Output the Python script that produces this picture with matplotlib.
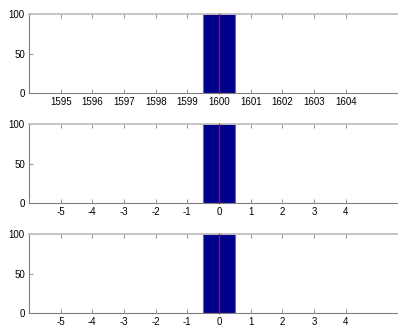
import matplotlib
matplotlib.use("Agg")
import matplotlib.pyplot as plt

plt.rcParams['font.family'] = ['Liberation Sans', 'DejaVu Sans']

# Data
top_centers = [1600]
top_counts = [100]
top_ticks = [1595, 1596, 1597, 1598, 1599, 1600, 1601, 1602, 1603, 1604]
top_xlim = (1594, 1606)

mid_centers = [0]
mid_counts = [100]
bot_centers = [0]
bot_counts = [100]
rel_ticks = [-5, -4, -3, -2, -1, 0, 1, 2, 3, 4]
rel_xlim = (-6, 6)

y_ticks = [0, 50, 100]
y_lim = (0, 100)

W, H = 398, 326
fig = plt.figure(figsize=(W / 100, H / 100), dpi=100)

left = 29 / W
width = (409 - 29) / W
height = 79 / H
bottoms = [1 - 93 / H, 1 - 203 / H, 1 - 313 / H]

panels = [
    (top_centers, top_counts, top_ticks, top_xlim),
    (mid_centers, mid_counts, rel_ticks, rel_xlim),
    (bot_centers, bot_counts, rel_ticks, rel_xlim),
]

for b, (centers, counts, ticks, xlim) in zip(bottoms, panels):
    ax = fig.add_axes([left, b, width, height])
    ax.bar(centers, counts, width=1.0, color='#00008f', edgecolor='#707070',
           linewidth=0.8, zorder=2)
    for c, n in zip(centers, counts):
        ax.plot([c, c], [0, n], color='#e00000', linewidth=0.9, zorder=3,
                clip_on=False)
    ax.set_xlim(*xlim)
    ax.set_ylim(*y_lim)
    ax.set_xticks(ticks)
    ax.set_xticklabels([str(t) for t in ticks])
    ax.set_yticks(y_ticks)
    ax.tick_params(axis='both', direction='in', labelsize=7, length=3,
                   width=0.6, color='#808080', pad=3)
    ax.tick_params(axis='x', top=True)
    ax.spines['left'].set_color('#808080')
    ax.spines['bottom'].set_color('#808080')
    ax.spines['top'].set_color('#c0c0c0')
    ax.spines['top'].set_linewidth(1.3)
    ax.spines['right'].set_visible(False)
    ax.spines['left'].set_linewidth(0.8)
    ax.spines['bottom'].set_linewidth(0.8)

fig.savefig("out.png", dpi=100)
